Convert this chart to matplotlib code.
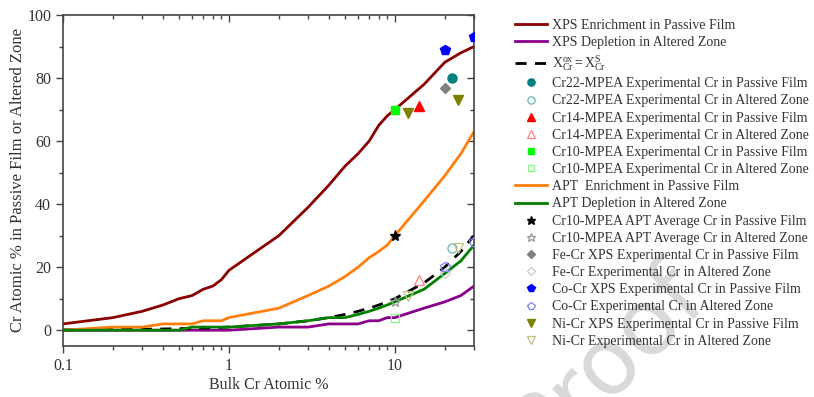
import numpy as np
import matplotlib.pyplot as plt
from matplotlib.ticker import LogLocator, MultipleLocator, NullFormatter, FixedFormatter, FixedLocator

plt.rcParams['font.family'] = ['Liberation Serif', 'DejaVu Serif']
plt.rcParams['mathtext.fontset'] = 'custom'
plt.rcParams['mathtext.rm'] = 'Liberation Serif'
plt.rcParams['mathtext.it'] = 'Liberation Serif:italic'

# bulk Cr grid shared by the model curves
bulk_cr = [0.1, 0.2, 0.3, 0.4, 0.5, 0.6, 0.7, 0.8, 0.9, 1, 2, 3, 4, 5, 6, 7, 8, 9, 10, 15, 20, 25, 30]

xps_enrich = [2, 4, 6, 8, 10, 11, 13, 14, 16, 19, 30, 39, 46, 52, 56, 60, 65, 68, 70, 78, 85, 88, 90]
xps_deplete = [0, 0, 0, 0, 0, 0, 0, 0, 0, 0, 1, 1, 2, 2, 2, 3, 3, 4, 4, 7, 9, 11, 14]
equal_line = [0.1, 0.2, 0.3, 0.4, 0.5, 0.6, 0.7, 0.8, 0.9, 1, 2, 3, 4, 5, 6, 7, 8, 9, 10, 15, 20, 25, 30]
apt_enrich = [0, 1, 1, 2, 2, 2, 3, 3, 3, 4, 7, 11, 14, 17, 20, 23, 25, 27, 30, 41, 49, 56, 63]
apt_deplete = [0, 0, 0, 0, 0, 1, 1, 1, 1, 1, 2, 3, 4, 4, 5, 6, 7, 8, 9, 13, 18, 22, 27]

# experimental points: (bulk Cr, film/zone Cr)
cr22_film_x, cr22_film_y = [22], [80]
cr22_zone_x, cr22_zone_y = [22], [26]
cr14_film_x, cr14_film_y = [14], [71]
cr14_zone_x, cr14_zone_y = [14], [16]
cr10_film_x, cr10_film_y = [10], [70]
cr10_zone_x, cr10_zone_y = [10], [4]
cr10_apt_film_x, cr10_apt_film_y = [10], [30]
cr10_apt_zone_x, cr10_apt_zone_y = [10], [9]
fecr_film_x, fecr_film_y = [20], [77]
fecr_zone_x, fecr_zone_y = [20], [18]
cocr_film_x, cocr_film_y = [20, 30], [89, 93]
cocr_zone_x, cocr_zone_y = [20, 30], [20, 28]
nicr_film_x, nicr_film_y = [12, 24], [69, 73]
nicr_zone_x, nicr_zone_y = [12, 24], [11, 26]

fig = plt.figure(figsize=(8.14, 3.97), dpi=100)
ax = fig.add_axes([0.0774, 0.1285, 0.5049, 0.8337])

ax.plot(bulk_cr, xps_enrich, color='#8b0000', lw=2, label='XPS Enrichment in Passive Film')
ax.plot(bulk_cr, xps_deplete, color='#8b008b', lw=2, label='XPS Depletion in Altered Zone')
ax.plot(bulk_cr, equal_line, color='black', lw=2, ls=(0, (4, 3)),
        label=r'$\mathrm{X_{Cr}^{ox} = X_{Cr}^{S}}$')

def pt(x, y, m, c, label, open_=False, ms=6.5):
    if open_:
        ax.plot(x, y, ls='none', marker=m, ms=ms, mfc='none', mec=c, mew=0.9, label=label, zorder=5)
    else:
        ax.plot(x, y, ls='none', marker=m, ms=ms, color=c, label=label, zorder=5)

pt(cr22_film_x, cr22_film_y, 'o', '#008080', 'Cr22-MPEA Experimental Cr in Passive Film')
pt(cr22_zone_x, cr22_zone_y, 'o', '#66b3b3', 'Cr22-MPEA Experimental Cr in Altered Zone', True)
pt(cr14_film_x, cr14_film_y, '^', '#ff0000', 'Cr14-MPEA Experimental Cr in Passive Film')
pt(cr14_zone_x, cr14_zone_y, '^', '#ff8080', 'Cr14-MPEA Experimental Cr in Altered Zone', True)
pt(cr10_film_x, cr10_film_y, 's', '#00ff00', 'Cr10-MPEA Experimental Cr in Passive Film', ms=6)
pt(cr10_zone_x, cr10_zone_y, 's', '#80ff80', 'Cr10-MPEA Experimental Cr in Altered Zone', True, ms=6)

ax.plot(bulk_cr, apt_enrich, color='#ff7f0e', lw=2, label='APT  Enrichment in Passive Film')
ax.plot(bulk_cr, apt_deplete, color='#008000', lw=2, label='APT Depletion in Altered Zone')

pt(cr10_apt_film_x, cr10_apt_film_y, '*', 'black', 'Cr10-MPEA APT Average Cr in Passive Film', ms=8)
pt(cr10_apt_zone_x, cr10_apt_zone_y, '*', '#999999', 'Cr10-MPEA APT Average Cr in Altered Zone', True, ms=8)
pt(fecr_film_x, fecr_film_y, 'D', '#808080', 'Fe-Cr XPS Experimental Cr in Passive Film', ms=5.5)
pt(fecr_zone_x, fecr_zone_y, 'D', '#cccccc', 'Fe-Cr Experimental Cr in Altered Zone', True, ms=5.5)
pt(cocr_film_x, cocr_film_y, 'p', '#0000ff', 'Co-Cr XPS Experimental Cr in Passive Film', ms=7.5)
pt(cocr_zone_x, cocr_zone_y, 'p', '#8080ff', 'Co-Cr Experimental Cr in Altered Zone', True, ms=7.5)
pt(nicr_film_x, nicr_film_y, 'v', '#808000', 'Ni-Cr XPS Experimental Cr in Passive Film')
pt(nicr_zone_x, nicr_zone_y, 'v', '#c0c080', 'Ni-Cr Experimental Cr in Altered Zone', True)

ax.set_xscale('log')
ax.set_xlim(0.1, 30)
ax.set_ylim(-5, 100)
ax.xaxis.set_major_locator(FixedLocator([0.1, 1, 10]))
ax.xaxis.set_major_formatter(FixedFormatter(['0.1', '1', '10']))
ax.xaxis.set_minor_locator(LogLocator(subs=np.arange(2, 10)))
ax.xaxis.set_minor_formatter(NullFormatter())
ax.yaxis.set_major_locator(MultipleLocator(20))
ax.yaxis.set_minor_locator(MultipleLocator(10))

txt = '#333333'
for s in ax.spines.values():
    s.set_color('#444444')
    s.set_linewidth(1.2)
ax.tick_params(which='both', colors='#444444', labelcolor=txt, labelsize=11.5, width=1)
ax.tick_params(which='major', length=5)
ax.tick_params(which='minor', length=3)
ax.tick_params(which='both', top=True, right=True, direction='out')
# top and right ticks point into the axes
for t in ax.xaxis.get_ticklines(minor=False)[1::2] + ax.xaxis.get_ticklines(minor=True)[1::2]:
    t.set_marker(3)
for t in ax.yaxis.get_ticklines(minor=False)[1::2] + ax.yaxis.get_ticklines(minor=True)[1::2]:
    t.set_marker(0)

ax.set_xlabel('Bulk Cr Atomic %', fontsize=11.5, color=txt, labelpad=2)
ax.set_ylabel('Cr Atomic % in Passive Film or Altered Zone', fontsize=12, color=txt, labelpad=1)

fig.legend(loc='upper left', bbox_to_anchor=(0.633, 0.952), frameon=False, fontsize=10,
           labelcolor=txt, handlelength=2.3, handletextpad=0.35, labelspacing=0.3,
           borderpad=0, borderaxespad=0, markerscale=0.8)

fig.text(0.745, 0.09, 'Proof', fontsize=66, color='#d9d9d9', rotation=45,
         ha='center', va='center', family='DejaVu Sans', zorder=0)

fig.savefig('out.png', dpi=100)
